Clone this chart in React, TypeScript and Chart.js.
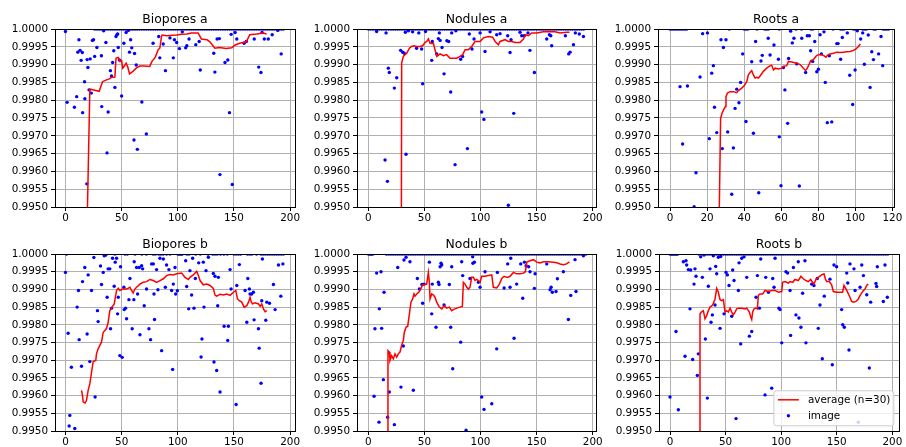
import React, { useEffect, useRef } from "react";
import { Chart, registerables } from "chart.js";

Chart.register(...registerables);

const FONT = "'DejaVu Sans', sans-serif";

// ---------- shared ticks ----------
const xTicks200 = [0, 50, 100, 150, 200];
const xTicks120 = [0, 20, 40, 60, 80, 100, 120];
const yTicks = [0.995, 0.9955, 0.996, 0.9965, 0.997, 0.9975, 0.998, 0.9985, 0.999, 0.9995, 1.0];

// ---------- Biopores a ----------
const bioporesAPts: number[][] = [
  [0, 0.99993], [1.5, 0.99794], [8, 0.9978], [10, 0.9981], [11, 0.99935], [12, 0.9997], [13, 0.9994], [14, 0.99912],
  [15, 0.99934], [15.3, 0.99765], [17, 0.99852], [17.3, 0.99804], [19, 0.99565], [19.3, 0.99914], [20, 0.99892],
  [21, 0.99829], [22, 0.99916], [23, 0.9982], [24, 0.99968], [25, 0.9997], [26, 0.99923], [28, 0.99948], [32, 0.99925],
  [32.3, 0.99782], [34, 0.99995], [36, 0.99962], [37, 0.99652], [38, 0.99767], [40, 0.99883], [41, 0.99868], [42, 0.99906],
  [43, 0.99939], [44, 0.99836], [45, 0.99979], [46, 0.99985], [46.5, 0.99986], [47, 0.99948], [48, 0.99913], [50, 0.99812],
  [52, 0.9996], [54, 0.9999], [56, 0.99996], [57, 0.99935], [58, 0.9997], [59, 0.99947], [61, 0.99688], [61.5, 0.99931],
  [63, 0.99899], [64, 0.99662], [68, 0.99795], [72, 0.99705], [78, 0.9996], [83, 0.99979], [84, 0.99919], [87, 0.99958],
  [89, 0.99883], [93, 0.99975], [96, 0.99919], [97, 0.9997], [99, 0.99962], [101.5, 0.99945], [104, 0.99992], [107, 0.99947],
  [108, 0.99953], [110, 0.99972], [116, 0.99956], [119, 0.99965], [120, 0.99885], [132, 0.99932], [133, 0.99879],
  [135, 0.99972], [137, 0.99973], [137.5, 0.99591], [142, 0.99906], [144.5, 0.99913], [146, 0.99765], [147.5, 0.99985],
  [148.5, 0.99563], [151, 0.9999], [152.5, 0.99972], [159, 0.9996], [161, 0.99965], [168, 0.99972], [172, 0.99893],
  [174, 0.99878], [175, 0.9999], [177, 0.99972], [180.5, 0.99972], [184, 0.99984], [189, 0.99996], [192, 0.9993],
];
const bioporesATop = [
  26, 28, 30, 32, 34, 36, 38, 40, 42, 44, 46, 48, 50, 52, 54, 56, 58, 60, 62, 64, 66, 68, 70, 72, 74, 76, 78, 80, 82, 84,
  86, 88, 90, 92, 94, 96, 98, 100, 102, 104, 106, 108, 110, 112, 114, 116, 118, 120, 122, 124, 126, 128, 130, 132, 134,
  136, 138, 140, 142, 144, 146, 148, 150, 152, 154, 156, 158, 160, 162, 164, 166, 168, 170, 172, 174, 176, 178, 180, 182,
  184, 186, 188, 190, 192, 194,
];
const bioporesALineX = [
  19, 21.7, 23.5, 26, 30, 33, 36.5, 39, 41, 44, 45, 47, 48.5, 50, 51, 52.5, 54, 55.5, 57, 60, 63, 66, 70, 75, 77, 80, 82.5,
  84, 85.5, 86, 90, 99, 103, 108, 112, 118, 121, 126, 128.5, 133, 137, 143, 148, 151, 155, 161, 164, 170, 176, 179,
];
const bioporesALineY = [
  0.99405, 0.99831, 0.9983, 0.99828, 0.99825, 0.99852, 0.99857, 0.9986, 0.99864, 0.99865, 0.99918, 0.9992, 0.99909, 0.99911,
  0.9989, 0.99896, 0.99904, 0.99893, 0.99874, 0.99881, 0.9989, 0.99896, 0.99896, 0.99895, 0.99909, 0.99921, 0.99942, 0.99946,
  0.99979, 0.99983, 0.99981, 0.99983, 0.99985, 0.99986, 0.99989, 0.99989, 0.99972, 0.9997, 0.99964, 0.99946, 0.99948,
  0.99945, 0.99947, 0.99955, 0.9996, 0.99964, 0.99984, 0.99986, 0.99989, 0.99986,
];

// ---------- Nodules a ----------
const nodulesAPts: number[][] = [
  [7.4, 0.99993], [15.8, 0.99989], [14.9, 0.99632], [17, 0.99572], [17.8, 0.9989], [18.7, 0.99878], [23.2, 0.99834],
  [25.3, 0.99863], [28.8, 0.9994], [30.6, 0.99935], [32, 0.99932], [33, 0.99991], [33.6, 0.99648], [35.7, 0.99995],
  [39.5, 0.99992], [43, 0.99946], [45, 0.99989], [47.5, 0.99944], [48.4, 0.99846], [51, 0.99993], [56.5, 0.99912],
  [57, 0.99965], [61, 0.9993], [62.4, 0.99973], [63.3, 0.99989], [64, 0.99968], [65.7, 0.99948], [67.5, 0.99874],
  [70, 0.99967], [71.6, 0.99965], [73.4, 0.99823], [74.3, 0.99989], [78, 0.99995], [77.3, 0.99619], [82.3, 0.99915],
  [84, 0.99923], [88.3, 0.99664], [90, 0.99986], [92.4, 0.99944], [94.2, 0.99972], [99.6, 0.99989], [101, 0.99767],
  [103, 0.99746], [104, 0.99937], [108.5, 0.99992], [114.4, 0.99984], [117.4, 0.99987], [124.2, 0.99981], [124.8, 0.99505],
  [126.3, 0.99934], [127.2, 0.9997], [129.6, 0.99763], [135.2, 0.99991], [136.7, 0.99981], [139, 0.99981], [142.3, 0.99989],
  [144, 0.9994], [148, 0.99878], [159, 0.99972], [161.4, 0.99984], [162.6, 0.99981], [163.4, 0.99953], [175.6, 0.99981],
  [178.6, 0.9993], [179.8, 0.99935], [182.8, 0.99956], [184.5, 0.99989], [188, 0.99986], [191.7, 0.99979],
];
const nodulesATop = [
  0, 2, 4, 6, 8, 10, 12, 14, 16, 18, 20, 22, 24, 26, 28, 30, 32, 34, 36, 38, 40, 42, 44, 46, 48, 50, 52, 54, 56, 58, 60,
  62, 64, 66, 68, 70, 72, 74, 76, 78, 80, 82, 84, 86, 88, 90, 92, 94, 96, 98, 100, 102, 104, 106, 108, 110, 112, 114, 116,
  118, 120, 122, 124, 126, 128, 130, 132, 134, 136, 138, 140, 142, 144, 146, 148, 150, 152, 154, 156, 158, 160, 162, 164,
  166, 168, 170, 172, 174, 176, 178, 180, 182, 184, 186, 188, 190, 192,
];
const nodulesALineX = [
  28.9, 29.7, 31.2, 32.7, 34.2, 36.6, 38.6, 40.7, 43, 46, 48.4, 50.5, 52, 53.5, 55, 56.5, 58, 59.4, 61, 64, 66.9, 69.8, 72.8,
  78.8, 81.7, 84.1, 86.2, 89.2, 92.1, 95.1, 99.6, 102.5, 107, 110.8, 113, 115.9, 117.4, 121.8, 124.8, 127.8, 130.8, 135.2,
  138.2, 140, 142.6, 145.6, 150, 156, 162, 166.4, 170.9, 176.8, 179.2,
];
const nodulesALineY = [
  0.985, 0.99904, 0.99923, 0.99928, 0.99932, 0.99946, 0.99951, 0.99953, 0.99951, 0.99951, 0.99953, 0.99962, 0.99965,
  0.99972, 0.9996, 0.99959, 0.9996, 0.99942, 0.99923, 0.9993, 0.99925, 0.99928, 0.99918, 0.99918, 0.99923, 0.99928,
  0.99942, 0.99942, 0.99951, 0.99965, 0.99965, 0.99975, 0.99979, 0.99977, 0.99965, 0.99956, 0.99965, 0.9997, 0.99965,
  0.99965, 0.99962, 0.99962, 0.99972, 0.99984, 0.99981, 0.99989, 0.99989, 0.99992, 0.99993, 0.99992, 0.99989, 0.99991,
  0.99991,
];

// ---------- Roots a ----------
const rootsAPts: number[][] = [
  [5.4, 0.99838], [6.8, 0.99677], [9.4, 0.9984], [13, 0.99501], [14, 0.99596], [16.2, 0.99865], [17.6, 0.99987],
  [20.2, 0.99989], [21.2, 0.99692], [22.5, 0.99876], [23.4, 0.99897], [24, 0.9978], [25.2, 0.99709], [27.5, 0.9997],
  [28.2, 0.99664], [28.8, 0.99948], [30.2, 0.9997], [31.1, 0.99711], [33.3, 0.99536], [34.2, 0.99666], [35.1, 0.99777],
  [36, 0.99831], [37.2, 0.99793], [38.1, 0.9985], [39.2, 0.9993], [41, 0.9974], [44.1, 0.99908], [45, 0.99707],
  [46.2, 0.99965], [47.9, 0.9954], [49.1, 0.9991], [49.8, 0.99926], [53, 0.99974], [54, 0.99927], [56.1, 0.99955],
  [58.5, 0.99915], [59, 0.99697], [59.9, 0.9956], [61.2, 0.99892], [62, 0.99829], [63.5, 0.99735], [64, 0.99917],
  [65.1, 0.99994], [66, 0.99961], [66.9, 0.99974], [68.4, 0.99902], [69.8, 0.99559], [71.1, 0.99974], [73.2, 0.99878],
  [74.1, 0.99981], [75.2, 0.99981], [75.9, 0.99939], [77, 0.99909], [78.1, 0.99965], [79.2, 0.9988], [80.1, 0.99887],
  [81, 0.99984], [81.7, 0.9993], [83.1, 0.99992], [83.8, 0.9985], [84.9, 0.99737], [86, 0.99925], [87.3, 0.99739],
  [90, 0.99959], [90.7, 0.99959], [92.1, 0.99915], [93, 0.99976], [95.7, 0.99989], [97, 0.9987], [98.6, 0.99788],
  [99.9, 0.99885], [101.1, 0.99995], [102.9, 0.99972], [104, 0.99989], [104.9, 0.99901], [107, 0.99983], [108, 0.99836],
  [108.9, 0.99936], [109.8, 0.99914], [112.6, 0.9993], [113.9, 0.99979], [114.8, 0.99897],
];
const rootsATop = [
  0, 1, 2, 3, 4, 5, 6, 7, 8, 9, 32, 40, 41, 42, 47, 51, 52, 53, 59, 65, 68, 71, 76, 77, 88, 92, 93, 94, 99, 100, 101, 104,
  105, 106, 110, 111, 115, 116, 117, 118,
];
const rootsALineX = [
  26.3, 27.3, 28, 28.8, 29.9, 30.2, 31, 32.4, 34.2, 36, 36.9, 38.7, 39.9, 41.4, 42.3, 43.2, 44.1, 45, 45.9, 46.8, 47.7, 48.6,
  50.4, 52.2, 54, 54.9, 55.8, 56.7, 58.5, 60.3, 61.2, 63, 63.9, 65.7, 68.4, 70.2, 72, 73.2, 74.1, 75.2, 75.9, 77.4, 78.3,
  79.2, 81, 82.8, 84.2, 85.1, 86.4, 88.2, 90, 91.8, 93.6, 95.4, 97.2, 99, 100.4, 101.7, 102.7,
];
const rootsALineY = [
  0.9939, 0.99749, 0.99762, 0.99772, 0.99782, 0.9981, 0.9982, 0.99824, 0.99824, 0.99821, 0.99827, 0.99834, 0.9984, 0.99852,
  0.99871, 0.99878, 0.99883, 0.99871, 0.99862, 0.99864, 0.99862, 0.99868, 0.99881, 0.9989, 0.99897, 0.99898, 0.99885,
  0.9989, 0.99888, 0.9989, 0.99895, 0.99897, 0.99909, 0.99907, 0.99904, 0.999, 0.9989, 0.99883, 0.9989, 0.99902, 0.99911,
  0.99914, 0.9992, 0.99926, 0.99928, 0.99926, 0.99921, 0.99927, 0.9993, 0.99932, 0.99935, 0.99934, 0.99935, 0.99936,
  0.99937, 0.9994, 0.99944, 0.99951, 0.99958,
];

// ---------- Biopores b ----------
const bioporesBPts: number[][] = [
  [0, 0.99948], [2.4, 0.99776], [3.9, 0.99544], [3.3, 0.99514], [5.3, 0.9968], [8.3, 0.99507], [10.4, 0.9985],
  [11.6, 0.99897], [12.2, 0.99758], [14.3, 0.99683], [15.2, 0.99922], [17.2, 0.99962], [19.3, 0.99774], [20.2, 0.99941],
  [21.7, 0.99696], [23.2, 0.99897], [25.3, 0.9999], [26.4, 0.99596], [28.5, 0.9984], [29.1, 0.99809], [31.2, 0.99966],
  [32.1, 0.99914], [33.6, 0.99948], [34.5, 0.99995], [36, 0.99997], [37.1, 0.99878], [38, 0.99958], [39.5, 0.99958],
  [40.1, 0.99789], [41, 0.99847], [41.9, 0.99988], [43.4, 0.99909], [44.3, 0.99977], [45.5, 0.99988], [46.4, 0.99831],
  [47, 0.99878], [48.4, 0.99713], [49, 0.99964], [50.5, 0.99708], [52, 0.99906], [52.3, 0.99843], [53.5, 0.99847],
  [54.4, 0.99817], [56.5, 0.99871], [57.4, 0.99931], [59.4, 0.99789], [60.9, 0.99871], [61.2, 0.99978], [63.3, 0.99962],
  [64.2, 0.99887], [65.7, 0.99962], [66.3, 0.99772], [67.8, 0.99967], [68.7, 0.99958], [70.1, 0.99854], [72.2, 0.99901],
  [74.3, 0.99789], [75.8, 0.99758], [76.7, 0.99972], [78.2, 0.99972], [78.8, 0.99887], [79.3, 0.99815], [81.1, 0.99956],
  [82.3, 0.99899], [84.1, 0.99988], [85.6, 0.99727], [87.1, 0.99986], [88.9, 0.99906], [90, 0.99969], [92.1, 0.99956],
  [94.5, 0.99897], [95.4, 0.99674], [96, 0.99915], [97.5, 0.99962], [98.1, 0.99887], [99.6, 0.99896], [107, 0.99981],
  [107.9, 0.99908], [109.7, 0.99845], [110.8, 0.99953], [112.3, 0.99884], [113.2, 0.99988], [114.4, 0.99847],
  [115.6, 0.99931], [118.6, 0.99975], [120.7, 0.99709], [121.5, 0.9976], [122.7, 0.99977], [123.3, 0.9985],
  [125.1, 0.99953], [127.2, 0.99991], [131.6, 0.99945], [132.2, 0.99695], [133.1, 0.99937], [134.6, 0.99671],
  [135.5, 0.99854], [136.1, 0.99934], [137.6, 0.9961], [141.2, 0.99796], [145, 0.99796], [144.4, 0.99756],
  [146.5, 0.99956], [147.4, 0.99901], [151.9, 0.99575], [152.5, 0.99911], [154.8, 0.9997], [159.9, 0.99897],
  [161.4, 0.99807], [162.3, 0.99931], [163.7, 0.99901], [164.3, 0.99887], [165.8, 0.99887], [167.3, 0.99892],
  [167.9, 0.99814], [171.8, 0.99789], [172.4, 0.99734], [174.1, 0.99635], [174.7, 0.99868], [175.3, 0.99986],
  [178.3, 0.99813], [179.2, 0.99864], [181.6, 0.99861], [185.1, 0.99914], [186.6, 0.99843], [189.6, 0.99969],
  [191.7, 0.99881], [193.5, 0.99972],
];
const bioporesBTop = [
  1, 44, 53, 55, 62, 68, 72, 78, 80, 83, 85, 87, 90, 93, 100, 101, 102, 103, 104, 108, 110, 116, 120, 127, 131, 133, 135,
  138, 141, 144, 150, 152, 154, 156, 162, 164, 166, 170, 174, 176, 178, 180, 182, 184, 186, 188, 190, 192, 194,
];
const bioporesBLineX = [
  14.3, 15.2, 15.8, 17.5, 18.7, 20.2, 21.7, 23.2, 24.7, 27, 27.6, 29.1, 30.6, 32.1, 33.6, 35.1, 36.6, 38, 39.5, 41.6, 43.4,
  45.5, 47, 48.4, 50.8, 54.4, 57.4, 58.8, 60.3, 61.8, 63.3, 66.3, 69.2, 72.2, 75.2, 78.2, 81.1, 84.1, 87.1, 90, 93, 96, 99,
  103.4, 106.4, 109.4, 110.8, 113.8, 116.8, 118.3, 119.8, 122.7, 125.7, 128.7, 131.6, 133.1, 134.6, 137.6, 140.6, 143.5,
  146.5, 149.5, 151.6, 153.1, 154.8, 156.9, 159, 161.4, 162.9, 164.3, 165.2, 166.4, 168.8, 171.8, 173.3, 174.7, 176.2,
  177.7, 179.2,
];
const bioporesBLineY = [
  0.99615, 0.99599, 0.99582, 0.99579, 0.99586, 0.99615, 0.99633, 0.99666, 0.99696, 0.99699, 0.99718, 0.99732, 0.99742,
  0.99751, 0.99779, 0.99784, 0.9979, 0.99807, 0.9984, 0.9985, 0.99859, 0.99897, 0.99903, 0.99897, 0.99901, 0.99901,
  0.99906, 0.99897, 0.9989, 0.99901, 0.99906, 0.99915, 0.9992, 0.99922, 0.99928, 0.99925, 0.9992, 0.99925, 0.9993,
  0.99939, 0.99942, 0.99941, 0.99944, 0.99946, 0.99934, 0.99928, 0.99934, 0.99941, 0.99951, 0.99939, 0.99925, 0.99913,
  0.99915, 0.99911, 0.99903, 0.99884, 0.99881, 0.99886, 0.99884, 0.99887, 0.99883, 0.99892, 0.99897, 0.99873, 0.99868,
  0.99864, 0.9985, 0.99854, 0.99864, 0.99878, 0.99866, 0.99859, 0.99862, 0.99859, 0.99852, 0.99859, 0.99845, 0.99837,
  0.9984,
];

// ---------- Nodules b ----------
const nodulesBPts: number[][] = [
  [5.1, 0.99598], [5.9, 0.99789], [7.4, 0.99946], [9.5, 0.99525], [9.8, 0.99845], [11.3, 0.9995], [11.9, 0.9979],
  [13.4, 0.99645], [14, 0.99892], [17.2, 0.99539], [18.7, 0.9961], [23.2, 0.99518], [26.2, 0.99962], [29.1, 0.99624],
  [31.2, 0.9974], [31.8, 0.99983], [33.6, 0.99991], [37.1, 0.99978], [40.1, 0.99615], [43.7, 0.99931], [45.5, 0.99901],
  [47.8, 0.99914], [48.4, 0.99861], [49.6, 0.99915], [54.4, 0.99977], [56.5, 0.99831], [57, 0.99915], [60.3, 0.99793],
  [62.4, 0.9992], [63, 0.99914], [64, 0.99964], [64.8, 0.99974], [65.4, 0.99969], [67.5, 0.99856], [72.2, 0.99914],
  [73.4, 0.99793], [74.3, 0.99964], [75.2, 0.99676], [82.3, 0.99751], [83.2, 0.99978], [84.1, 0.99939], [87.1, 0.99502],
  [90.6, 0.99931], [93, 0.99992], [93.2, 0.99974], [94.5, 0.99977], [98.1, 0.9992], [99.6, 0.99906], [101, 0.99596],
  [103.1, 0.99561], [104, 0.9995], [110, 0.99577], [114.4, 0.99732], [115, 0.99948], [121, 0.99904], [124.2, 0.99972],
  [126.3, 0.99906], [126.9, 0.99988], [129.9, 0.99762], [132.2, 0.99915], [135.8, 0.99972], [137.6, 0.99875],
  [139.1, 0.99977], [140.6, 0.99967], [142.9, 0.99964], [144.1, 0.9995], [148.6, 0.99944], [148, 0.99903], [159, 0.99972],
  [162, 0.99899], [162.9, 0.99906], [164, 0.99892], [167.3, 0.99894], [168.5, 0.9993], [173.8, 0.9995], [178.3, 0.99815],
  [180.4, 0.99883], [184.2, 0.99984], [185.1, 0.99894], [191.7, 0.99995],
];
const nodulesBTop = [
  0, 1, 2, 3, 4, 16, 18, 20, 22, 24, 26, 28, 30, 32, 34, 36, 38, 40, 42, 44, 46, 48, 50, 52, 54, 56, 58, 60, 62, 64, 66,
  68, 70, 72, 74, 76, 78, 80, 82, 84, 86, 88, 90, 92, 94, 96, 98, 100, 102, 104, 106, 108, 110, 112, 114, 116, 118, 120,
  122, 124, 126, 128, 130, 132, 134, 136, 138, 140, 142, 144, 146, 148, 150, 152, 154, 156, 158, 160, 162, 164, 166, 168,
  170, 172, 174, 176, 178, 180, 182, 184, 186, 188, 190, 192, 194,
];
const nodulesBLineX = [
  17.3, 17.5, 18.7, 19.3, 20.8, 22.3, 23.8, 25.3, 26.7, 28.2, 29.7, 31.2, 32.1, 33.6, 35.1, 36.6, 38, 39.5, 40.7, 41.6, 43.1,
  44.9, 46.7, 48.4, 50.5, 52, 53.5, 54.4, 55, 56.5, 58, 59.4, 60.9, 63.3, 65.4, 67.5, 69.8, 72.2, 74.3, 75.8, 78.8, 81.7,
  83.8, 84.7, 86.2, 87.7, 89.2, 90.6, 92.1, 93.6, 95.1, 96.6, 98.1, 99.6, 101, 104, 107, 110, 111.4, 114.4, 116.8, 118.9,
  121, 123.9, 126.3, 129.3, 132.2, 135.2, 138.2, 140, 141.2, 144.1, 147.1, 150.1, 153, 156, 160.5, 164.9, 167.9, 170.9,
  173.8, 176.8, 179.2,
];
const nodulesBLineY = [
  0.98, 0.99727, 0.99723, 0.99699, 0.99713, 0.99704, 0.99718, 0.99709, 0.99718, 0.99723, 0.99742, 0.99756, 0.99779,
  0.99793, 0.99796, 0.99831, 0.99864, 0.99873, 0.99887, 0.99881, 0.99887, 0.99892, 0.99901, 0.99913, 0.99914, 0.99915,
  0.99948, 0.9992, 0.99873, 0.99887, 0.99884, 0.99878, 0.99864, 0.9985, 0.99845, 0.99854, 0.99847, 0.9985, 0.9984,
  0.99843, 0.99847, 0.9985, 0.99852, 0.9992, 0.99915, 0.99906, 0.99901, 0.99906, 0.99934, 0.99934, 0.99925, 0.99928,
  0.99925, 0.9992, 0.99937, 0.99937, 0.99939, 0.99941, 0.99906, 0.99904, 0.99915, 0.99931, 0.99937, 0.99934, 0.99937,
  0.99948, 0.99944, 0.99944, 0.99946, 0.9995, 0.99977, 0.99981, 0.99984, 0.99977, 0.99975, 0.99978, 0.99978, 0.99977,
  0.99975, 0.99972, 0.9997, 0.99972, 0.99978,
];

// ---------- Roots b ----------
const rootsBPts: number[][] = [
  [0, 0.99596], [5.4, 0.99781], [7.5, 0.9956], [12, 0.99978], [13.5, 0.99711], [14.4, 0.99981], [15, 0.99969],
  [16.5, 0.99956], [18, 0.99845], [18.6, 0.99955], [20.4, 0.99702], [21.6, 0.99915], [22.5, 0.99958], [23.4, 0.99937],
  [24.6, 0.99657], [25.5, 0.99718], [27.6, 0.99992], [29.1, 0.99934], [30.6, 0.99997], [31.8, 0.9976], [33.6, 0.99593],
  [34.5, 0.99909], [36, 0.99958], [36.9, 0.99807], [38.1, 0.99828], [39, 0.99995], [40.5, 0.99856], [41.1, 0.99965],
  [42, 0.99944], [43.5, 0.99991], [45, 0.9979], [45.6, 0.99993], [48.6, 0.99831], [50.4, 0.99948], [51.6, 0.99941],
  [53.1, 0.99911], [55.5, 0.99824], [56.4, 0.99955], [57.6, 0.99925], [59.4, 0.99535], [61.5, 0.99897], [62.1, 0.99975],
  [63.6, 0.99746], [64.5, 0.99988], [66.6, 0.99992], [69, 0.99934], [71.4, 0.99768], [73.5, 0.99781], [77.4, 0.99878],
  [78.6, 0.99939], [80.4, 0.99847], [81.6, 0.99986], [85.5, 0.99602], [86.1, 0.99934], [88.5, 0.99892], [91.5, 0.99621],
  [92.4, 0.99931], [93.6, 0.99906], [94.5, 0.99988], [98, 0.99847], [99, 0.99843], [100.5, 0.99749], [104.3, 0.9995],
  [105.8, 0.99946], [108, 0.99897], [108.5, 0.9977], [111, 0.99962], [113.3, 0.99828], [115.4, 0.99978], [116, 0.99819],
  [117.8, 0.99793], [119.3, 0.99889], [121.4, 0.99981], [122.3, 0.99749], [127.4, 0.99915], [129.5, 0.99911],
  [132.5, 0.99931], [133.4, 0.9979], [134.9, 0.99856], [137, 0.99704], [138.8, 0.99881], [143.9, 0.99929], [146, 0.99687],
  [147.5, 0.99969], [149.9, 0.99964], [154.4, 0.99843], [155.4, 0.998], [156.8, 0.99793], [159, 0.99946], [159.9, 0.99918],
  [161, 0.99729], [161.9, 0.99972], [165.5, 0.99958], [166.5, 0.99897], [169.4, 0.99525], [171, 0.99906], [172.5, 0.99969],
  [174, 0.99939], [177, 0.99885], [179.3, 0.99678], [180.5, 0.99864], [185.3, 0.99917], [185.9, 0.99908], [186.5, 0.99964],
  [191.9, 0.99866], [193.4, 0.99969], [195.5, 0.99878],
];
const rootsBTop = [
  0, 1, 2, 3, 4, 5, 6, 7, 26, 28, 30, 32, 34, 36, 38, 40, 42, 44, 46, 48, 50, 52, 54, 56, 58, 60, 62, 64, 66, 68, 70, 72,
  74, 76, 78, 80, 82, 84, 86, 88, 90, 92, 94, 96, 98, 100, 102, 104, 106, 108, 110, 112, 114, 116, 118, 120, 122, 124, 126,
  128, 130, 132, 134, 136, 138, 140, 142, 144, 146, 148, 150, 152, 154, 156, 158, 160, 162, 164, 166, 168, 170, 172, 174,
  176, 178, 180, 182, 184, 186, 188, 190, 192, 194, 196,
];
const rootsBLineX = [
  26.9, 27, 28.5, 30, 31.5, 33, 34.5, 36, 38.4, 40.5, 42, 43.5, 45, 46.5, 48, 49.5, 51, 52.5, 54, 55.5, 57, 58.5, 60, 61.5,
  64.5, 67.5, 69, 71.4, 72.6, 73.5, 74.4, 75.6, 77.4, 78.6, 79.5, 81, 83.4, 85.5, 88.5, 91.5, 94.5, 97.5, 100.5, 101.3,
  103.4, 106.4, 108, 110.4, 112.4, 115.4, 117.8, 119.9, 122.3, 124.4, 126.5, 129.5, 131.3, 133.4, 136.4, 138.5, 139.7,
  140.9, 143.3, 145.4, 146.9, 149.9, 152.9, 155.3, 156.5, 159, 161.9, 163.4, 164.9, 167.3, 169.4, 171, 172.5, 174, 175.4,
  176.9, 178.4,
];
const rootsBLineY = [
  0.98, 0.99831, 0.99837, 0.9984, 0.99817, 0.99826, 0.9984, 0.9985, 0.99856, 0.99873, 0.99903, 0.99892, 0.99871, 0.99868,
  0.99871, 0.99836, 0.9984, 0.99836, 0.99847, 0.99836, 0.99828, 0.99836, 0.99845, 0.99847, 0.99847, 0.99845, 0.99847,
  0.99836, 0.99822, 0.99815, 0.99837, 0.99845, 0.99847, 0.99845, 0.99884, 0.99887, 0.99887, 0.99897, 0.99894, 0.99897,
  0.99897, 0.99892, 0.99894, 0.9992, 0.99922, 0.99918, 0.99922, 0.9992, 0.99928, 0.99925, 0.99937, 0.9993, 0.99925,
  0.99922, 0.99928, 0.99915, 0.99928, 0.99934, 0.99941, 0.99944, 0.9993, 0.99922, 0.99922, 0.99913, 0.99894, 0.99892,
  0.99892, 0.99892, 0.99911, 0.99897, 0.99878, 0.99866, 0.99864, 0.99866, 0.99873, 0.99883, 0.9989, 0.99897, 0.99901,
  0.99911, 0.99915,
];

const LINE_LABEL = "average (n=30)";
const POINT_LABEL = "image";

// ---------- layout (page px) ----------
const PAD_L = 54;
const PAD_T = 28;
const PAD_R = 14;
const PAD_B = 22;

type PanelCfg = {
  title: string;
  pts: number[][];
  top: number[];
  lx: number[];
  ly: number[];
  xMin: number;
  xMax: number;
  xTicks: number[];
  box: number[]; // left, right, top, bottom of plot area
  legend?: boolean;
};

const panels: PanelCfg[] = [
  { title: "Biopores a", pts: bioporesAPts, top: bioporesATop, lx: bioporesALineX, ly: bioporesALineY, xMin: -9.3, xMax: 204.3, xTicks: xTicks200, box: [55, 295, 29, 207] },
  { title: "Nodules a", pts: nodulesAPts, top: nodulesATop, lx: nodulesALineX, ly: nodulesALineY, xMin: -10.1, xMax: 202.9, xTicks: xTicks200, box: [357, 596, 29, 207] },
  { title: "Roots a", pts: rootsAPts, top: rootsATop, lx: rootsALineX, ly: rootsALineY, xMin: -6.5, xMax: 120.9, xTicks: xTicks120, box: [658, 894, 29, 207] },
  { title: "Biopores b", pts: bioporesBPts, top: bioporesBTop, lx: bioporesBLineX, ly: bioporesBLineY, xMin: -9.3, xMax: 204.3, xTicks: xTicks200, box: [55, 295, 254, 431] },
  { title: "Nodules b", pts: nodulesBPts, top: nodulesBTop, lx: nodulesBLineX, ly: nodulesBLineY, xMin: -10.1, xMax: 202.9, xTicks: xTicks200, box: [357, 596, 254, 431] },
  { title: "Roots b", pts: rootsBPts, top: rootsBTop, lx: rootsBLineX, ly: rootsBLineY, xMin: -9.9, xMax: 206, xTicks: xTicks200, box: [659, 899, 254, 431], legend: true },
];

const decorPlugin = {
  id: "panelDecor",
  afterDatasetsDraw(chart: any, _args: any, opts: any) {
    const { ctx, chartArea: a } = chart;
    ctx.save();
    // axes frame
    ctx.strokeStyle = "#000";
    ctx.lineWidth = 1;
    const l = Math.floor(a.left) + 0.5;
    const r = Math.floor(a.right) + 0.5;
    const t = Math.floor(a.top) + 0.5;
    const b = Math.floor(a.bottom) + 0.5;
    ctx.strokeRect(l, t, r - l, b - t);
    // title
    ctx.fillStyle = "#000";
    ctx.font = `12.4px ${FONT}`;
    ctx.textAlign = "center";
    ctx.textBaseline = "alphabetic";
    ctx.fillText(opts.title, (a.left + a.right) / 2, a.top - 6);
    // legend
    if (opts.legend) {
      const fs = 10.4;
      ctx.font = `${fs}px ${FONT}`;
      const labels = chart.data.datasets.map((d: any) => d.label as string);
      const tw = Math.max(...labels.map((s: string) => ctx.measureText(s).width));
      const w = 0.4 * fs + 2 * fs + 0.8 * fs + tw + 0.4 * fs;
      const h = 35;
      const x0 = a.right - 5.2 - w;
      const y0 = a.bottom - 5.2 - h;
      ctx.beginPath();
      if ((ctx as any).roundRect) (ctx as any).roundRect(x0, y0, w, h, 2.5);
      else ctx.rect(x0, y0, w, h);
      ctx.fillStyle = "rgba(255,255,255,0.8)";
      ctx.fill();
      ctx.strokeStyle = "#cccccc";
      ctx.lineWidth = 1;
      ctx.stroke();
      // line handle
      ctx.beginPath();
      ctx.strokeStyle = "#ff0000";
      ctx.lineWidth = 1.5;
      ctx.moveTo(x0 + 4, y0 + 9);
      ctx.lineTo(x0 + 25, y0 + 9);
      ctx.stroke();
      // point handle
      ctx.beginPath();
      ctx.fillStyle = "#0000ff";
      ctx.arc(x0 + 14.5, y0 + 25, 1.7, 0, Math.PI * 2);
      ctx.fill();
      ctx.fillStyle = "#000";
      ctx.textAlign = "left";
      ctx.textBaseline = "middle";
      ctx.fillText(labels[0], x0 + 34, y0 + 9);
      ctx.fillText(labels[1], x0 + 34, y0 + 25);
    }
    ctx.restore();
  },
};

function Panel({ cfg }: { cfg: PanelCfg }) {
  const ref = useRef<HTMLCanvasElement>(null);
  const [L, R, T, B] = cfg.box;
  const w = R - L + PAD_L + PAD_R;
  const h = B - T + PAD_T + PAD_B;

  useEffect(() => {
    const canvas = ref.current;
    if (!canvas) return;
    const scatterData = [
      ...cfg.pts.map((p) => ({ x: p[0], y: p[1] })),
      ...cfg.top.map((x) => ({ x, y: 1.0 })),
    ];
    const lineData = cfg.lx.map((x, i) => ({ x, y: cfg.ly[i] }));
    const tickFont = { family: FONT, size: 10.4 };
    const grid = { color: "#b0b0b0", lineWidth: 1, tickColor: "#000", tickLength: 4, tickWidth: 1, drawTicks: true };
    const chart = new Chart(canvas, {
      type: "scatter",
      data: {
        datasets: [
          {
            label: LINE_LABEL,
            data: lineData,
            showLine: true,
            borderColor: "#ff0000",
            backgroundColor: "#ff0000",
            borderWidth: 1.5,
            pointRadius: 0,
            tension: 0,
            fill: false,
            clip: 0,
          } as any,
          {
            label: POINT_LABEL,
            data: scatterData,
            showLine: false,
            pointRadius: 1.7,
            pointBorderWidth: 0,
            pointBackgroundColor: "#0000ff",
            backgroundColor: "#0000ff",
            borderColor: "#0000ff",
            clip: 0,
          } as any,
        ],
      },
      options: {
        animation: false,
        responsive: false,
        devicePixelRatio: 1,
        events: [],
        layout: { padding: { top: PAD_T, right: PAD_R, left: 0, bottom: 0 } },
        plugins: {
          legend: { display: false },
          tooltip: { enabled: false },
          title: { display: false },
          panelDecor: { title: cfg.title, legend: !!cfg.legend },
        } as any,
        scales: {
          x: {
            type: "linear",
            min: cfg.xMin,
            max: cfg.xMax,
            afterFit: (s: any) => {
              s.height = PAD_B;
            },
            afterBuildTicks: (s: any) => {
              s.ticks = cfg.xTicks.map((v) => ({ value: v }));
            },
            ticks: {
              font: tickFont,
              color: "#000",
              padding: 1,
              maxRotation: 0,
              autoSkip: false,
              callback: (v: any) => String(v),
            },
            grid,
            border: { display: false },
          },
          y: {
            type: "linear",
            min: 0.995,
            max: 1.0,
            afterFit: (s: any) => {
              s.width = PAD_L;
            },
            afterBuildTicks: (s: any) => {
              s.ticks = yTicks.map((v) => ({ value: v }));
            },
            ticks: {
              font: tickFont,
              color: "#000",
              padding: 3,
              autoSkip: false,
              callback: (v: any) => Number(v).toFixed(4),
            },
            grid,
            border: { display: false },
          },
        },
      } as any,
      plugins: [decorPlugin],
    });
    return () => chart.destroy();
  }, [cfg]);

  return (
    <canvas
      ref={ref}
      width={w}
      height={h}
      style={{ position: "absolute", left: L - PAD_L, top: T - PAD_T, width: w, height: h }}
    />
  );
}

export default function App() {
  return (
    <div
      style={{
        position: "fixed",
        left: 0,
        top: 0,
        width: 906,
        height: 447,
        overflow: "hidden",
        background: "#ffffff",
      }}
    >
      {panels.map((p) => (
        <Panel key={p.title} cfg={p} />
      ))}
    </div>
  );
}
